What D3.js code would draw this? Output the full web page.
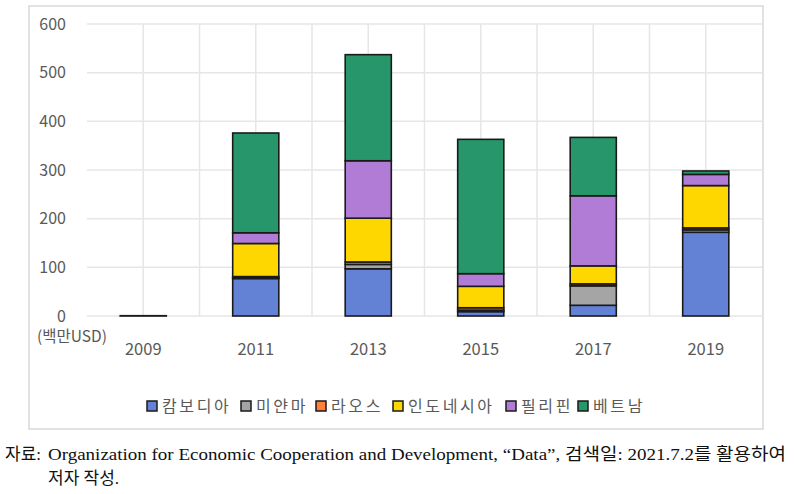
<!DOCTYPE html>
<html><head><meta charset="utf-8">
<script src="https://cdn.jsdelivr.net/npm/d3@7"></script>
<style>body{margin:0;background:#fff;}svg{display:block;}</style>
</head><body><svg id="c" width="794" height="494"></svg>
<script>
const years = ["2009","2011","2013","2015","2017","2019"];
const seriesNames = ["캄보디아","미얀마","라오스","인도네시아","필리핀","베트남"];
const cambodia    = [0.6, 77, 97, 9, 22, 172];
const myanmar     = [0, 1, 9, 3, 40, 5];
const laos        = [0, 3, 5, 5, 4, 4];
const indonesia   = [0, 68, 90, 44, 37, 87];
const philippines = [0, 22, 118, 26, 144, 23];
const vietnam     = [0, 205, 218, 276, 120, 7];
const yTicks = [0,100,200,300,400,500,600];
const colors = ["#6382d6","#a5a5a5","#ff7f37","#ffd700","#b07cd6","#27976b"];
const unitLabel = "(백만USD)";
const note1a = "자료:";
const note1b = "Organization for Economic Cooperation and Development, “Data”, 검색일: 2021.7.2를 활용하여";
const note2 = "저자 작성.";

const svg = d3.select("#c");
const L = 87, R = 762, T = 24, B = 316;
const allSeries = [cambodia, myanmar, laos, indonesia, philippines, vietnam];
const rows = years.map((y,i)=>{const o={year:y}; seriesNames.forEach((n,k)=>o[n]=allSeries[k][i]); return o;});
const stack = d3.stack().keys(seriesNames)(rows);

const x = d3.scaleBand().domain(years).range([L,R]).padding(0);
const y = d3.scaleLinear().domain([0,600]).range([B,T]);
const barW = x.bandwidth()*0.41;

// frame
svg.append("rect").attr("x",29).attr("y",6).attr("width",734).attr("height",423)
  .attr("fill","none").attr("stroke","#d9d9d9").attr("stroke-width",1.5);

// grid
const g = svg.append("g");
yTicks.forEach(t=>{
  g.append("line").attr("x1",L).attr("x2",R).attr("y1",y(t)).attr("y2",y(t))
   .attr("stroke","#e6e6e6").attr("stroke-width",1.5);
});
const vlines = [];
years.forEach((yr,i)=>{ vlines.push(x(yr)+x.bandwidth()/2); if(i>0) vlines.push(x(yr)); });
vlines.forEach(v=>{
  g.append("line").attr("x1",v).attr("x2",v).attr("y1",T).attr("y2",B)
   .attr("stroke","#e6e6e6").attr("stroke-width",1.5);
});

// bars
stack.forEach((layer,k)=>{
  svg.append("g").selectAll("rect").data(layer).join("rect")
    .attr("x",d=>x(d.data.year)+x.bandwidth()/2-barW/2)
    .attr("width",barW)
    .attr("y",d=>y(d[1]))
    .attr("height",d=>Math.max(0,y(d[0])-y(d[1])))
    .attr("fill",colors[k])
    .attr("stroke","#1a1a1a").attr("stroke-width",d=>(d[1]-d[0])>0?1.6:0);
});

// y labels
const txt = "#595959";
const font = "'Noto Sans CJK KR','Noto Sans',sans-serif";
svg.append("g").selectAll("text").data(yTicks).join("text")
  .attr("x",66).attr("y",d=>y(d)).attr("dy","0.35em").attr("text-anchor","end")
  .attr("font-family",font).attr("font-size",16).attr("fill",txt).text(d=>d);
svg.append("text").attr("x",37).attr("y",337).attr("dy","0.35em")
  .attr("font-family",font).attr("font-size",15.5).attr("fill",txt).text(unitLabel);
// x labels
svg.append("g").selectAll("text").data(years).join("text")
  .attr("x",d=>x(d)+x.bandwidth()/2).attr("y",349).attr("dy","0.35em").attr("text-anchor","middle")
  .attr("font-family",font).attr("font-size",16.5).attr("fill",txt).text(d=>d);

// legend
const legX = [147,241,316,393,506,578];
seriesNames.forEach((n,k)=>{
  svg.append("rect").attr("x",legX[k]).attr("y",401).attr("width",10).attr("height",10)
    .attr("fill",colors[k]).attr("stroke","#1a1a1a").attr("stroke-width",1.5);
  svg.append("text").attr("x",legX[k]+15).attr("y",406).attr("dy","0.35em")
    .attr("font-family",font).attr("font-size",16).attr("letter-spacing",2.6).attr("fill",txt).text(n);
});

// footnote
const sf = "'Liberation Serif','Noto Sans CJK KR',serif";
svg.append("text").attr("x",5).attr("y",460).attr("font-family",sf).attr("font-size",17).attr("fill","#111").text(note1a);
svg.append("text").attr("x",48).attr("y",460).attr("font-family",sf).attr("font-size",17).attr("fill","#111")
  .attr("textLength",738).attr("lengthAdjust","spacingAndGlyphs").text(note1b);
svg.append("text").attr("x",48).attr("y",484).attr("font-family",sf).attr("font-size",17).attr("fill","#111").text(note2);
</script></body></html>
